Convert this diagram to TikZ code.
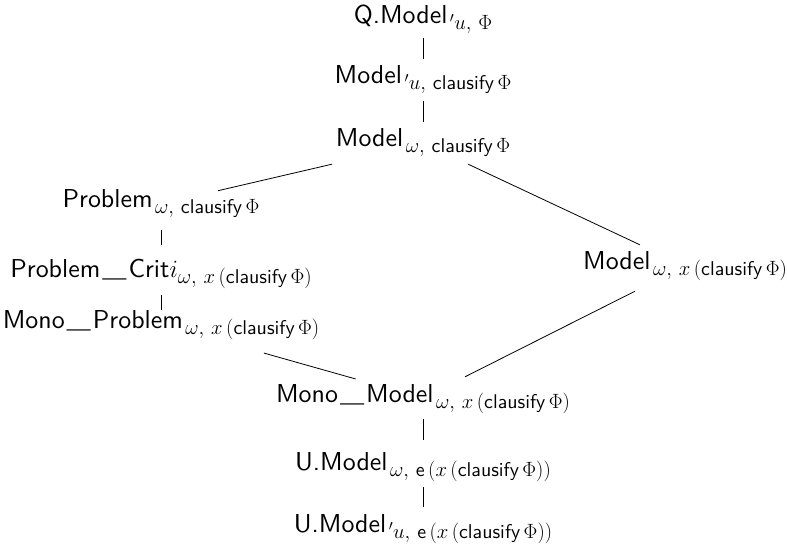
\documentclass[tikz,border=0pt]{standalone}
\usepackage{fontspec}
\usepackage{graphicx}
\newfontfamily\lmsten[Extension=.otf]{lmsans10-regular}
\newcommand{\sbs}[1]{\kern2.5bp\raisebox{-6bp}{\fontsize{20}{22}\selectfont$#1$}}
\newcommand{\sfm}[1]{\mbox{\lmsten #1}}
\newcommand{\clf}{\sfm{clausify}\,\Phi}
\newcommand{\usc}{\kern2bp\scalebox{1.4}[0.6]{\_}\kern2bp}
\begin{document}
\begin{tikzpicture}[x=1bp,y=-1bp,
  lbl/.style={anchor=base,inner sep=8bp,text height=17bp,text depth=9bp,
              font=\fontsize{26}{31}\selectfont\lmsten},
  edge/.style={line width=0.8bp}]
\useasboundingbox (0,0) rectangle (787,547);
\node[lbl] (q)  at (423,24)  {Q.Model\sbs{{}^{\prime}u,\,\Phi}};
\node[lbl] (m1) at (423,84)  {Model\sbs{{}^{\prime}u,\,\clf}};
\node[lbl] (m2) at (423,147) {Model\sbs{\omega,\,\clf}};
\node[lbl] (p1) at (161,208) {Problem\sbs{\omega,\,\clf}};
\node[lbl] (p2) at (161,278) {Problem\usc Crit$i$\kern-2.5bp\sbs{\omega,\,x\,(\clf)}};
\node[lbl] (p3) at (161,328) {Mono\usc Problem\sbs{\omega,\,x\,(\clf)}};
\node[lbl] (r)  at (685,270) {Model\sbs{\omega,\,x\,(\clf)}};
\node[lbl] (mm) at (423,402) {Mono\usc Model\sbs{\omega,\,x\,(\clf)}};
\node[lbl] (u1) at (423,470) {U.Model\sbs{\omega,\,\sfm{e}\,(x\,(\clf))}};
\node[lbl] (u2) at (423,532) {U.Model\sbs{{}^{\prime}u,\,\sfm{e}\,(x\,(\clf))}};
\draw[edge,shorten <=-3bp] (q) -- (m1);
\draw[edge] (m1) -- (m2);
\draw[edge,shorten >=-35bp] (m2) -- (p1);
\draw[edge] (m2) -- (r);
\draw[edge,shorten <=5bp,shorten >=8bp] (p1) -- (p2);
\draw[edge,shorten >=-7bp] (p2) -- (p3);
\draw[edge,shorten <=29bp,shorten >=-8bp] (p3) -- (mm);
\draw[edge,shorten <=9bp] (r) -- (mm);
\draw[edge,shorten >=5bp] (mm) -- (u1);
\draw[edge] (u1) -- (u2);
\end{tikzpicture}
\end{document}
